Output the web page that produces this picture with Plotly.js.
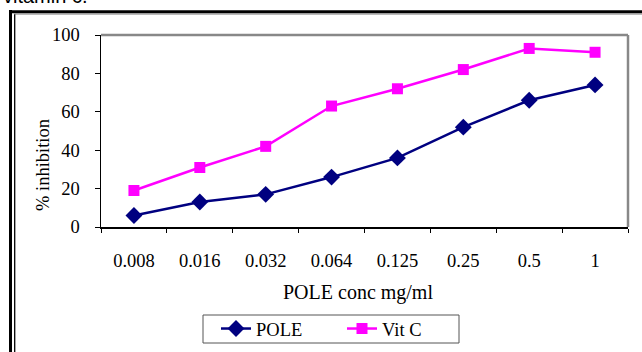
<!DOCTYPE html>
<html>
<head>
<meta charset="utf-8">
<script src="https://cdn.plot.ly/plotly-3.0.1.min.js"></script>
<style>html,body{margin:0;padding:0;background:#fff;}#chart{width:642px;height:352px;}</style>
</head>
<body>
<div id="chart"></div>
<script>
const categories = ["0.008", "0.016", "0.032", "0.064", "0.125", "0.25", "0.5", "1"];
const poleValues = [6, 13, 17, 26, 36, 52, 66, 74];
const vitCValues = [19, 31, 42, 63, 72, 82, 93, 91];
const yTicks = [0, 20, 40, 60, 80, 100];
const xTitle = "POLE conc mg/ml";
const yTitle = "% inhibition";
const topText = "vitamin c.";

const L = 101, R = 628, T = 35, B = 227, W = 642, H = 352;
const px = x => (x - L) / (R - L);
const py = y => (B - y) / (B - T);

const serif = "Liberation Serif, Times New Roman, serif";

const traces = [
  {
    x: categories, y: poleValues, name: "POLE", type: "scatter", mode: "lines+markers",
    line: {color: "#000080", width: 2.5},
    marker: {symbol: "diamond", size: 13, color: "#000080"}
  },
  {
    x: categories, y: vitCValues, name: "Vit C", type: "scatter", mode: "lines+markers",
    line: {color: "#FF00FF", width: 2.5},
    marker: {symbol: "square", size: 11, color: "#FF00FF"}
  }
];

const layout = {
  width: W, height: H,
  margin: {l: L, r: W - R, t: T, b: H - B, autoexpand: false},
  paper_bgcolor: "#ffffff", plot_bgcolor: "#ffffff",
  showlegend: true,
  font: {family: serif, color: "#000", size: 18.5},
  xaxis: {
    type: "category", range: [-0.5, 7.5], showgrid: false, zeroline: false,
    showline: true, linecolor: "#000", linewidth: 1.5,
    ticks: "outside", ticklen: 4, tickcolor: "#000", tickwidth: 1, tickson: "boundaries",
    ticklabelstandoff: 16, automargin: false,
    tickfont: {family: serif, size: 18.5, color: "#000"}
  },
  yaxis: {
    range: [0, 100], tickvals: yTicks, showgrid: false, zeroline: false,
    showline: true, linecolor: "#000", linewidth: 1.5,
    ticks: "outside", ticklen: 5, tickcolor: "#000", tickwidth: 1,
    ticklabelstandoff: 11, automargin: false,
    tickfont: {family: serif, size: 18.5, color: "#000"}
  },
  legend: {
    orientation: "h", x: px(216), y: py(310), xanchor: "left", yanchor: "top",
    borderwidth: 0, bgcolor: "rgba(0,0,0,0)",
    font: {family: serif, size: 18.5, color: "#000"},
    entrywidth: 81
  },
  shapes: [
    {type: "line", xref: "paper", yref: "paper", x0: 0, x1: 1, y0: 1, y1: 1, line: {color: "#888", width: 2.5}},
    {type: "line", xref: "paper", yref: "paper", x0: 1, x1: 1, y0: 0, y1: 1, line: {color: "#888", width: 2.5}},
    {type: "line", xref: "paper", yref: "paper", x0: px(10.5), x1: px(10.5), y0: py(10), y1: py(360), line: {color: "#000", width: 3}},
    {type: "line", xref: "paper", yref: "paper", x0: px(14.7), x1: px(14.7), y0: py(14), y1: py(360), line: {color: "#000", width: 1.3}},
    {type: "line", xref: "paper", yref: "paper", x0: px(9), x1: px(650), y0: py(11.8), y1: py(11.8), line: {color: "#000", width: 3}},
    {type: "line", xref: "paper", yref: "paper", x0: px(14), x1: px(650), y0: py(14), y1: py(14), line: {color: "#777", width: 1}},
    {type: "rect", xref: "paper", yref: "paper", x0: px(203), x1: px(459), y0: py(315), y1: py(343), line: {color: "#555", width: 1}, fillcolor: "rgba(0,0,0,0)"}
  ],
  annotations: [
    {text: topText, xref: "paper", yref: "paper", x: px(1), y: py(9.5), xanchor: "left", yanchor: "bottom",
     showarrow: false, font: {family: "Liberation Sans, Arial, sans-serif", size: 20, color: "#000"}},
    {text: xTitle, xref: "paper", yref: "paper", x: px(358), y: py(292), xanchor: "center", yanchor: "middle",
     showarrow: false, font: {family: serif, size: 20, color: "#000"}},
    {text: yTitle, xref: "paper", yref: "paper", x: px(43), y: py(165), xanchor: "center", yanchor: "middle",
     textangle: -90, showarrow: false, font: {family: serif, size: 18.5, color: "#000"}}
  ]
};

Plotly.newPlot("chart", traces, layout, {displayModeBar: false, staticPlot: true});
</script>
</body>
</html>
